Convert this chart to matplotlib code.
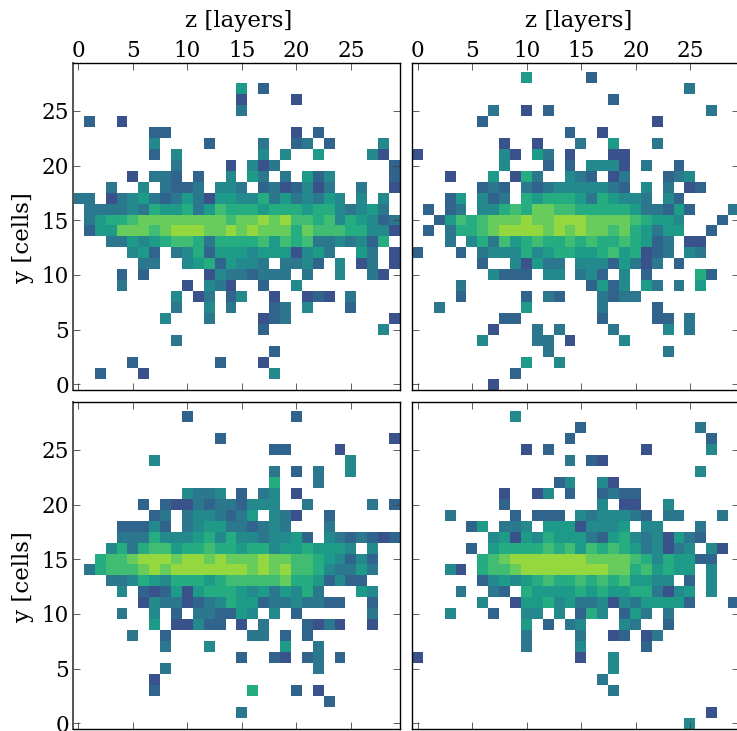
import numpy as np
import matplotlib
matplotlib.use('Agg')
import matplotlib.pyplot as plt

plt.rcParams['font.family'] = 'DejaVu Serif'

# binned counts on a 0-9 scale, '.' = empty. rows run from y=29 down to y=0, columns z=0..29
EMPTY = "..... ..... ..... ..... ..... ....."

top_left = [
    EMPTY,
    EMPTY,
    "..... ..... ..... 5.2.. ..... .....",
    "..... ..... ..... 1.... 1.... .....",
    "..... ..... ..... 3.... ..... .....",
    ".2..1 ..... ..... ..... ..... .....",
    "..... ..22. ..... ..... 1.2.. .....",
    "..... ..4.. ..2.. ..3.. 23.2. ...4.",
    "..... ..2.4 ..... ..4.4 ..5.. ..41.",
    "..... ....3 ....1 .413. ..... ....2",
    "..... 1.332 .2..4 .53.3 .524. ....2",
    "...3. .4.32 23.44 3.231 2413. .3..1",
    "33.13 45323 53155 44635 34354 .4.4.",
    ".3333 43655 63576 66566 65664 3453.",
    ".3566 78888 88887 88989 77674 65423",
    ".2558 88789 99889 89888 68777 66441",
    "...33 54567 76366 66757 67334 3426.",
    "..... 452.3 46255 54555 1453. .53.1",
    "..... .33.. 45625 443.3 342.4 .13.1",
    "....2 .2... ..143 32333 .3..4 ..31.",
    "....3 ..... 1.431 ..2.. 4.... .....",
    "..... ....4 .13.2 4..1. .121. 3....",
    "..... ....3 ..4.3 ...23 .4... 2....",
    "..... ...4. ..3.. ..123 ..... ....1",
    "..... ..... ..... ..2.. ..... ...4.",
    "..... ....3 ..... ..... ..... .....",
    "..... ..... ..... ...2. ..... .....",
    "..... 2.... ...2. ..1.. ..... .....",
    "..2.. .1... ..... ...4. ..... .....",
    EMPTY,
]

top_right = [
    EMPTY,
    "..... ..... 5.... .2... ..... .....",
    "..... ..... ..... ..... ..... 3....",
    "..... ..... ..... ...2. ..... .....",
    "..... ..3.. 1.2.. ..... ..... ..3..",
    "..... .2... ..... ..... ..1.. .....",
    "..... ..... ....2 ..1.. ..... .....",
    "..... ...1. .1... 3..5. ..3.. .....",
    "1.... ...41 .53.1 ...11 ..... .....",
    "..... ...4. ..2.2 .4441 .3..2 .....",
    "...1. ..5.1 63..4 32.13 ...23 4....",
    "..... .232. 32344 44432 .4.3. 12...",
    "...25 .423. 65666 53654 43.42 .....",
    ".2.23 .4467 68877 66666 53325 2...3",
    "..257 67888 98899 98888 76554 ...2.",
    ".2.36 67899 99898 98878 65355 ..2..",
    "...3. 46375 67667 67667 6523. 11...",
    "2...2 .3444 64566 55675 6123. 43...",
    "..... .2..4 1533. 44425 313.2 .....",
    "..... ..422 2.44. 342.4 .2... .62..",
    "....3 ..... ..... .2524 .53.3 .5...",
    "....2 ..... 2.32. ..323 3.... .....",
    "..3.. ..... 5.... ..3.. ..2.. .....",
    "..... ...22 ..... ..2.. ..22. 3....",
    "..... ..1.. .3.3. ...3. ...4. 3....",
    "..... .4... .33.1 ....4 ..... .....",
    "..... ..... ..3.. ..... ...3. .....",
    "..... ..... 5..4. ..... ..... .....",
    "..... ....2 ..... ..... ..... .....",
    "..... ..1.. ..... ..... ..... .....",
]

bottom_left = [
    EMPTY,
    "..... ..... 2.... ..... 2.... .....",
    EMPTY,
    "..... ..... ...2. ..... ..... ....1",
    "..... ..... ..... ...22 ....1 .....",
    "..... ..4.. ..... ..... ..... 4....",
    "..... ..... ..... ...3. 2.3.. 4....",
    "..... ..... ..... ...6. ..3.. .....",
    "..... ..... 4334. 2.34. 1.... .....",
    "..... .2.21 13233 2444. .3... ..3.2",
    "..... ..23. 34432 35.43 1..2. .....",
    "....2 2242. 34553 32343 ...3. .....",
    "....3 33644 45646 44344 52.43 23212",
    "...46 36775 66766 56645 56555 4.4..",
    "..677 89998 99898 88988 77654 242..",
    ".3677 78989 99999 98989 77643 353..",
    "...33 46546 66567 77778 66524 22...",
    "....4 .2125 15666 54535 463.. .54..",
    "..... .1433 12346 55233 43322 ..2..",
    "....3 ..4.2 .3322 54.4. 2.... ..3..",
    "..... ..5.1 1422. 1.3.. .2131 ..1..",
    "..... 3..2. ..... .33.2 .2... .....",
    "..... ...3. ..4.. ....5 ..3.. .....",
    "..... ..... ..... 2..21 .23.2 .....",
    "..... ...3. ..... ..... ..3.. .....",
    "..... ..1.. ..... ..... ..... .....",
    "..... ..2.. ..... .6... 2.1.. .....",
    "..... ..... ..... ..... ...2. .....",
    "..... ..... ..... 3.... ..... .....",
    EMPTY,
]

bottom_right = [
    EMPTY,
    "..... ....4 ..... ..... ..... .....",
    "..... ..... ..... 2.... ..... .3...",
    "..... ..... ....2 ..... ..... ..2..",
    "..... ..... 1.2.. ..... .1... ..4..",
    "..... ..... ....3 .21.. ..... .....",
    "..... ..... ..... ..... ..... .4...",
    "..... ..... ...24 ..41. ..... .....",
    "..... ...1. .14.2 ..232 2.... .....",
    "..... ...2. ..... ..4.1 1..4. .....",
    "...3. ....2 .222. 43444 32.33 ...3.",
    "..... 25.33 4.555 14445 .44.. .3...",
    "..... ..451 54655 53256 43415 32...",
    "..... 2.566 66767 57676 53413 4.41.",
    "..... .6789 99999 98888 76465 522..",
    "...41 .6778 99999 99988 67565 5.4..",
    "..... .2454 56766 76767 5544. 2.4..",
    "....3 ..32. 65555 65655 66314 5.4..",
    "..... .4..1 55645 33414 35555 2...2",
    "...4. ..2.. 44.4. 264.2 53.3. .....",
    "..... ..... 5.2.3 4...4 3..2. .....",
    "..... ..... 3.... 3..12 .13.. .....",
    "..... ..... 3.... 4.... .2... .....",
    "1.... ..... ..... 1..4. ..... .....",
    "..... ..... ..... ...4. ..... .....",
    "..... ..... ..... ..3.. ..... .....",
    "..... ..... ..... ...3. ..... .....",
    EMPTY,
    "..... ..... ..... ..... ..... ..1..",
    "..... ..... ..... ..... ..... 4....",
]

x_ticks = [0, 5, 10, 15, 20, 25]
y_ticks = [0, 5, 10, 15, 20, 25]


def to_grid(rows):
    grid = np.full((30, 30), np.nan)
    for i, row in enumerate(rows):
        for j, ch in enumerate(row.replace(' ', '')):
            if ch != '.':
                grid[29 - i, j] = int(ch)
    return np.ma.masked_invalid(grid)


W, H = 737.0, 731.0
fig = plt.figure(figsize=(W / 100, H / 100), dpi=100)

# left, top edge in pixels for each panel (right column runs off the canvas)
panels = [(top_left, 73, 62.7, True, True),
          (top_right, 412.3, 62.7, False, True),
          (bottom_left, 73, 401.7, True, False),
          (bottom_right, 412.3, 401.7, False, False)]

for rows, left, top, show_y, show_x in panels:
    ax = fig.add_axes([left / W, 1 - (top + 327) / H, 327 / W, 327 / H])
    ax.imshow(to_grid(rows), origin='lower', cmap='viridis', vmin=-2.39, vmax=11.17,
              interpolation='nearest', aspect='auto')
    ax.set_xlim(-0.5, 29.5)
    ax.set_ylim(-0.5, 29.4)
    ax.set_xticks(x_ticks)
    ax.set_yticks(y_ticks)
    ax.tick_params(direction='in', top=True, right=True, bottom=True, left=True,
                   length=5, width=0.6, color='#444444', labelsize=15.5, labeltop=show_x,
                   labelbottom=False, labelleft=show_y, labelright=False, pad=3)
    ax.tick_params(axis='x', pad=0.5)
    for sp in ax.spines.values():
        sp.set_linewidth(1.0)
    if show_y:
        ax.spines['left'].set_color('#555555')
        ax.spines['left'].set_linewidth(1.4)
    if show_x:
        ax.set_xlabel('z [layers]', fontsize=16.5)
        ax.xaxis.set_label_position('top')
        ax.xaxis.set_label_coords(0.508, 1.108)
    if show_y:
        ax.set_ylabel('y [cells]', fontsize=16.5)
        ax.yaxis.set_label_coords(-0.119, 0.466)

fig.savefig('out.png', dpi=100)
